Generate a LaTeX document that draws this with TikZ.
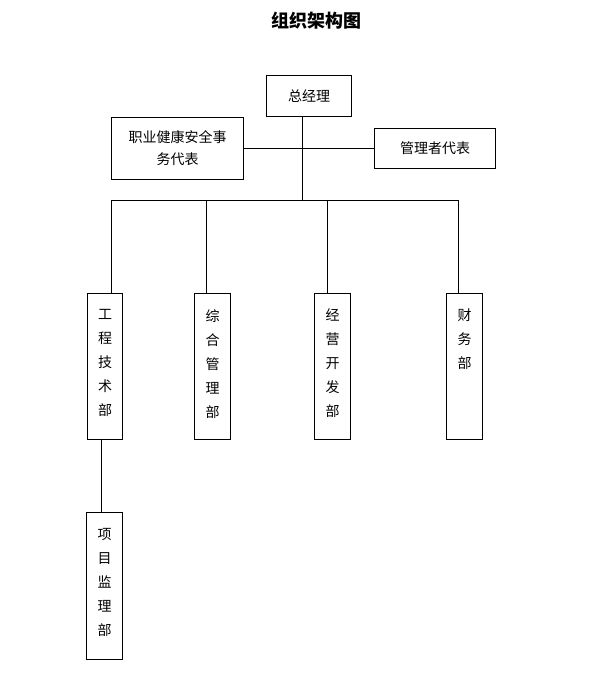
\documentclass[tikz,border=0pt]{standalone}
\usepackage{fontspec}
\newfontfamily\cjk{Noto Sans CJK SC}
\begin{document}
\begin{tikzpicture}[x=1pt,y=-1pt,
  box/.style={draw,line width=1pt,rectangle,inner sep=0pt,anchor=north west},
  txt/.style={font=\cjk\fontsize{14pt}{22pt}\selectfont,align=center,inner sep=0pt},
  vtxt/.style={font=\cjk\fontsize{14pt}{24pt}\selectfont,align=center,inner sep=0pt,anchor=north},
  con/.style={line width=1pt}]
\useasboundingbox (0,0) rectangle (607,679);
\node[font=\cjk\bfseries\fontsize{18pt}{20pt}\selectfont] (title) at (316,21) {组织架构图};
% top boxes
\node[box,minimum width=85pt,minimum height=41pt] (gm) at (266,75) {};
\node[txt] (gmt) at (gm.center) {总经理};
\node[box,minimum width=132pt,minimum height=62pt] (ohs) at (111,117) {};
\node[txt] (ohst) at (ohs.center) {职业健康安全事\\务代表};
\node[box,minimum width=121pt,minimum height=40pt] (rep) at (374,128) {};
\node[txt] (rept) at (rep.center) {管理者代表};
% departments
\node[box,minimum width=35pt,minimum height=146pt] (d1) at (87,293) {};
\node[vtxt] (d1t) at ([yshift=-16pt]d1.north) {工\\程\\技\\术\\部};
\node[box,minimum width=36pt,minimum height=146pt] (d2) at (194,293) {};
\node[vtxt] (d2t) at ([yshift=-16pt]d2.north) {综\\合\\管\\理\\部};
\node[box,minimum width=36pt,minimum height=146pt] (d3) at (314,293) {};
\node[vtxt] (d3t) at ([yshift=-16pt]d3.north) {经\\营\\开\\发\\部};
\node[box,minimum width=36pt,minimum height=146pt] (d4) at (446,293) {};
\node[vtxt] (d4t) at ([yshift=-16pt]d4.north) {财\\务\\部};
\node[box,minimum width=36pt,minimum height=147pt] (pj) at (86,512) {};
\node[vtxt] (pjt) at ([yshift=-16pt]pj.north) {项\\目\\监\\理\\部};
% connectors
\coordinate (bl) at (111,200);
\coordinate (br) at (458,200);
\coordinate (c2) at (206,200);
\coordinate (c3) at (327,200);
\coordinate (bm) at (302,200);
\coordinate (p1) at (101,439);
\draw[con] (gm.south -| bm) -- (bm);
\draw[con] (ohs.east) -- (rep.west);
\draw[con] (bl) -- (br);
\draw[con] (bl) -- (bl |- d1.north);
\draw[con] (c2) -- (c2 |- d2.north);
\draw[con] (c3) -- (c3 |- d3.north);
\draw[con] (br) -- (br |- d4.north);
\draw[con] (p1) -- (p1 |- pj.north);
\end{tikzpicture}
\end{document}
